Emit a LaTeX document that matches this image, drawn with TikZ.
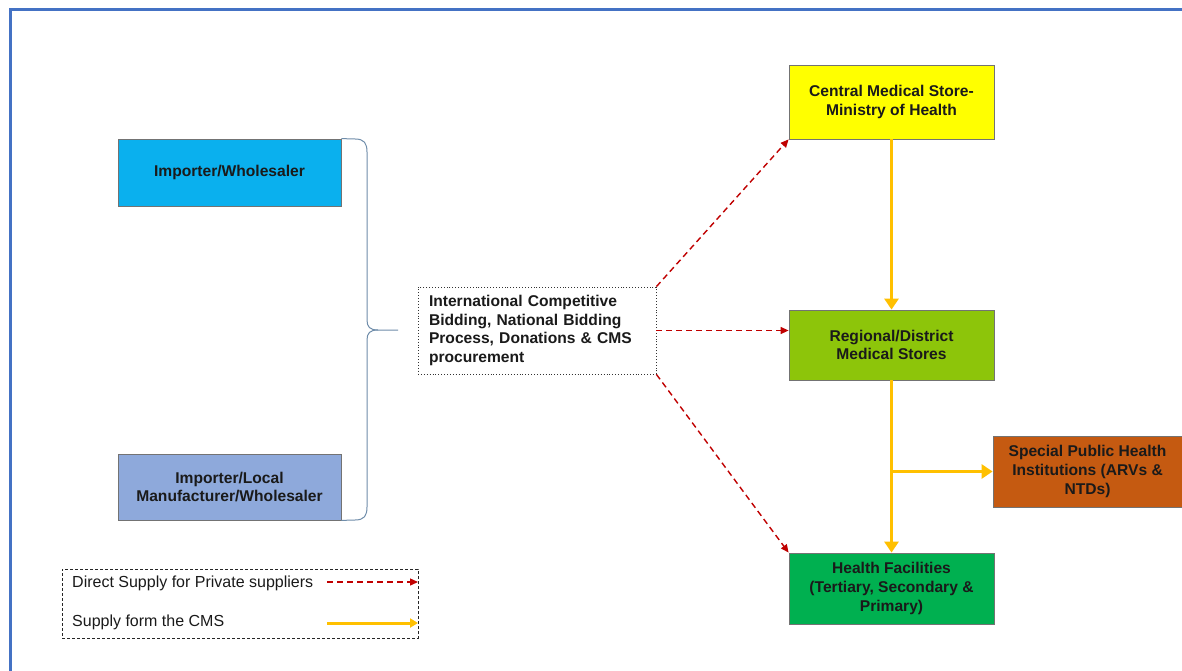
\documentclass[tikz,border=0pt]{standalone}
\usepackage{fontspec}
\setmainfont{Liberation Sans}
\usetikzlibrary{arrows.meta,calc}
\definecolor{frameblue}{HTML}{4472C4}
\definecolor{cyanbox}{HTML}{0AB0EE}
\definecolor{lavbox}{HTML}{8EA9DB}
\definecolor{yelbox}{HTML}{FFFF00}
\definecolor{limebox}{HTML}{8DC50A}
\definecolor{orangebox}{HTML}{C55A11}
\definecolor{greenbox}{HTML}{00B050}
\definecolor{supplyyellow}{HTML}{FFC000}
\definecolor{privred}{HTML}{C00000}
\definecolor{bracecol}{HTML}{6F8DAA}
\definecolor{txt}{HTML}{1A1A1A}
\begin{document}
\begin{tikzpicture}[x=1pt,y=-1pt,
  every node/.style={text=txt,font=\fontsize{16}{19}\selectfont},
  boxnode/.style={draw=black!55,line width=0.8pt,minimum width=#1,inner sep=0pt,align=center,font=\bfseries\fontsize{15.6}{18.8}\selectfont},
  boxnode/.default=205pt,
  privarrow/.style={draw=privred,line width=1.4pt,dash pattern=on 6pt off 4pt,-{Triangle[length=8pt,width=7pt]}},
  cmsarrow/.style={draw=supplyyellow,line width=3.2pt,-{Triangle[length=11pt,width=14pt]}},
]
\useasboundingbox (0,0) rectangle (1182,671);
\fill[white] (0,0) rectangle (1182,671);
\begin{scope}
\clip (0,0) rectangle (1182,671);
\draw[frameblue,line width=3pt] (10,10) rectangle (1200,690);
\end{scope}

% supplier boxes
\node[boxnode=223pt,fill=cyanbox,minimum height=67pt] (imp1) at (229.5,172.5) {Importer/Wholesaler};
\node[boxnode=223pt,fill=lavbox,minimum height=66pt] (imp2) at (229.5,487) {Importer/Local\\Manufacturer/Wholesaler};

% brace
\draw[bracecol,line width=1pt] (imp1.north east) -- (355,139) .. controls (364,139) and (367,143) .. (367,152)
  -- (367,320) .. controls (367,327) and (370,330) .. (378,330) -- (398,330);
\draw[bracecol,line width=1pt] (imp2.south east) -- (355,520) .. controls (364,520) and (367,516) .. (367,507)
  -- (367,340) .. controls (367,333) and (370,330) .. (378,330);

% procurement box
\node[draw=black!80,line width=0.9pt,dotted,minimum width=238pt,minimum height=87pt,text width=216pt,align=left,inner sep=0pt,font=\bfseries\fontsize{15.6}{18.8}\selectfont] (mid) at (537,330.5)
  {International Competitive\\Bidding, National Bidding\\Process, Donations \& CMS\\procurement};

% public chain
\node[boxnode,fill=yelbox,minimum height=74pt] (cms) at (891.5,102) {Central Medical Store-\\Ministry of Health};
\node[boxnode,fill=limebox,minimum height=70pt] (reg) at (891.5,345) {Regional/District\\Medical Stores};
\node[boxnode=189pt,fill=orangebox,minimum height=71pt] (spec) at (1087.5,471.5) {Special Public Health\\Institutions (ARVs \&\\NTDs)};
\node[boxnode,fill=greenbox,minimum height=71pt] (hf) at (891.5,588.5) {Health Facilities\\(Tertiary, Secondary \&\\Primary)};

% private supply
\draw[privarrow] (mid.north east) -- (cms.south west);
\draw[privarrow] (mid.east) -- (mid.east -| reg.west);
\draw[privarrow] (mid.south east) -- (hf.north west);

% CMS supply
\draw[cmsarrow] (cms.south) -- (reg.north);
\draw[cmsarrow] (reg.south) -- (hf.north);
\coordinate (branch) at (reg.south |- spec.west);
\draw[cmsarrow] (branch) -- (spec.west);

% legend
\node[draw=black!85,line width=1pt,dash pattern=on 3pt off 2pt,minimum width=356pt,minimum height=69pt,inner sep=0pt] (legend) at (240,603.5) {};
\node[anchor=west,inner sep=0pt] (leg1) at (72,583) {Direct Supply for Private suppliers};
\node[anchor=west,inner sep=0pt] (leg2) at (72,622) {Supply form the CMS};
\coordinate (l1a) at (327,582);
\coordinate (l1b) at (418,582);
\coordinate (l2a) at (327,623);
\coordinate (l2b) at (418,623);
\draw[privarrow] (l1a) -- (l1b);
\draw[draw=supplyyellow,line width=3pt,-{Triangle[length=8pt,width=9pt]}] (l2a) -- (l2b);
\end{tikzpicture}
\end{document}
